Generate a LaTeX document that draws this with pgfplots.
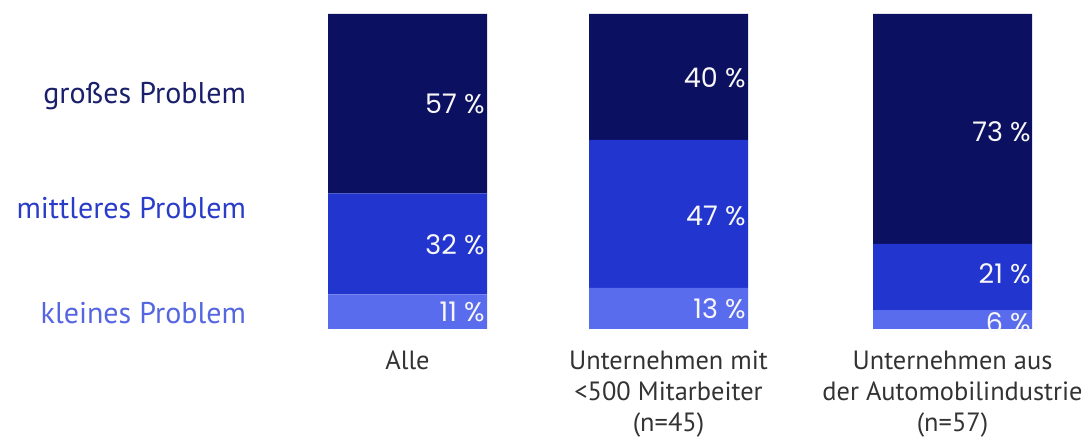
\documentclass[border=0pt]{standalone}
\usepackage{pgfplots}
\pgfplotsset{compat=1.18}
\usepackage{fontspec}
\setmainfont{PT Sans}
\newfontfamily\pctfont{Poppins}
\definecolor{cDark}{HTML}{0B1060}
\definecolor{cMid}{HTML}{2236CF}
\definecolor{cLight}{HTML}{5A6CEE}
\definecolor{tDark}{HTML}{1A1F6B}
\definecolor{tMid}{HTML}{2A3CC8}
\definecolor{tLight}{HTML}{5566E0}
\definecolor{tGray}{HTML}{333333}
\tikzset{pct/.style={anchor=east, font=\pctfont\fontsize{13.5}{15}\selectfont, text=white!94!gray, inner sep=0pt},
  cat/.style={anchor=north, align=center, font=\fontsize{13.2}{15.5}\selectfont, text=tGray},
  lab/.style={anchor=east, font=\fontsize{15}{18}\selectfont}}
\begin{document}
\begin{tikzpicture}
\begin{axis}[
  scale only axis, width=543pt, height=218.5pt,
  xmin=0, xmax=1086, ymin=-34.3, ymax=104.4,
  hide axis, clip=false,
  ybar stacked, bar width=159,
]
\addplot[fill=cLight, draw=none] coordinates {(407.5,11) (668.5,13) (952.5,6)};
\addplot[fill=cMid, draw=none] coordinates {(407.5,32) (668.5,47) (952.5,21)};
\addplot[fill=cDark, draw=none] coordinates {(407.5,57) (668.5,40) (952.5,73)};
\coordinate (SW) at (rel axis cs:0,0);
\coordinate (NE) at (rel axis cs:1,1);
\coordinate (L1) at (axis cs:253,74);
\coordinate (L2) at (axis cs:253,38.4);
\coordinate (L3) at (axis cs:253,5.1);
\coordinate (a1) at (axis cs:485,71.5);
\coordinate (a2) at (axis cs:485,26.7);
\coordinate (a3) at (axis cs:485,5.4);
\coordinate (b1) at (axis cs:746,79.7);
\coordinate (b2) at (axis cs:746,36);
\coordinate (b3) at (axis cs:746,6.3);
\coordinate (c1) at (axis cs:1031,62.5);
\coordinate (c2) at (axis cs:1031,17.5);
\coordinate (c3) at (axis cs:1031,2.0);
\coordinate (x1) at (axis cs:407.5,-4.8);
\coordinate (x2) at (axis cs:668.5,-4.8);
\coordinate (x3) at (axis cs:952.5,-4.8);
\end{axis}
\node[lab, text=tDark] at (L1) {großes Problem};
\node[lab, text=tMid] at (L2) {mittleres Problem};
\node[lab, text=tLight] at (L3) {kleines Problem};
\node[pct] at (a1) {57 \%};
\node[pct] at (a2) {32 \%};
\node[pct] at (a3) {11 \%};
\node[pct] at (b1) {40 \%};
\node[pct] at (b2) {47 \%};
\node[pct] at (b3) {13 \%};
\node[pct] at (c1) {73 \%};
\node[pct] at (c2) {21 \%};
\node[pct] at (c3) {6 \%};
\node[cat] at (x1) {Alle};
\node[cat] at (x2) {Unternehmen mit\\<500 Mitarbeiter\\(n=45)};
\node[cat] at (x3) {Unternehmen aus\\der Automobilindustrie\\(n=57)};
\pgfresetboundingbox
\path[use as bounding box] (SW) rectangle (NE);
\end{tikzpicture}
\end{document}
